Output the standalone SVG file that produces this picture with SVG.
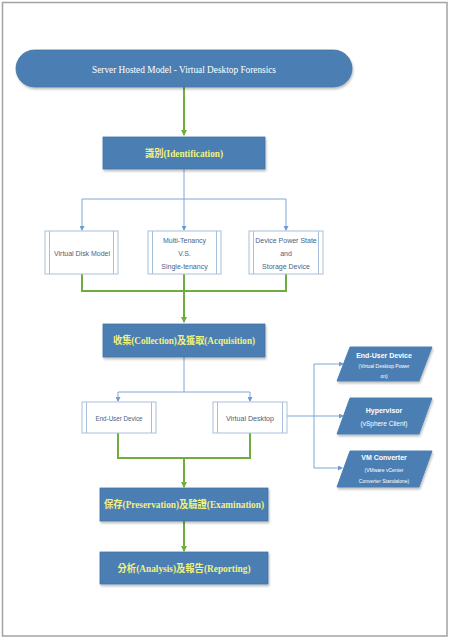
<svg xmlns="http://www.w3.org/2000/svg" width="450" height="640" viewBox="0 0 450 640">
<defs>
<marker id="ag" markerWidth="6" markerHeight="6" refX="5" refY="3" orient="auto" markerUnits="userSpaceOnUse"><path d="M0,0 L6,3 L0,6 z" fill="#6FAD3F"/></marker>
<marker id="ab" markerWidth="5" markerHeight="5" refX="4" refY="2.5" orient="auto" markerUnits="userSpaceOnUse"><path d="M0,0 L5,2.5 L0,5 z" fill="#6E9BD0"/></marker>
<filter id="sh" x="-10%" y="-20%" width="120%" height="150%"><feGaussianBlur in="SourceAlpha" stdDeviation="1.2"/><feOffset dx="1" dy="2" result="b"/><feComponentTransfer><feFuncA type="linear" slope="0.25"/></feComponentTransfer><feMerge><feMergeNode/><feMergeNode in="SourceGraphic"/></feMerge></filter>
</defs>
<style>
.blk{fill:#4C7FB3;stroke:#4272A6;stroke-width:0.8}
.cn{font-family:"Liberation Serif","Noto Sans CJK TC",serif;font-weight:bold;font-size:10px;fill:#F2F27A;text-anchor:middle}
.pr{fill:#FFFFFF;stroke:#A9C0DD;stroke-width:1}
.prl{stroke:#A9C0DD;stroke-width:1}
.pt{font-family:"Liberation Sans",Arial,sans-serif;font-size:7px;fill:#4B6282;text-anchor:middle}
.pg{fill:#4C7FB3;stroke:#4C7FB3}
.wt{font-family:"Liberation Sans",Arial,sans-serif;fill:#FFFFFF;text-anchor:middle}
.g{fill:none;stroke:#6FAD3F;stroke-width:2}
.b{fill:none;stroke:#7FA6D6;stroke-width:1}
</style>
<rect x="0" y="0" width="450" height="640" fill="#FFFFFF"/>
<rect x="2.5" y="2.5" width="444.5" height="633.5" fill="none" stroke="#A3A3A3" stroke-width="1.5"/>

<g id="connectors">
<path class="g" d="M184,87 V135" marker-end="url(#ag)"/>
<path class="b" d="M184,169 V199 M82,199 H286"/>
<path class="b" d="M82,199 V230" marker-end="url(#ab)"/>
<path class="b" d="M184,199 V230" marker-end="url(#ab)"/>
<path class="b" d="M286,199 V230" marker-end="url(#ab)"/>
<path class="g" d="M82,274 V291 H286 V274 M184,274 V291"/>
<path class="g" d="M184,291 V322" marker-end="url(#ag)"/>
<path class="b" d="M184,357 V392 M118,392 H250"/>
<path class="b" d="M118,392 V401" marker-end="url(#ab)"/>
<path class="b" d="M250,392 V401" marker-end="url(#ab)"/>
<path class="g" d="M118,433 V458 H250 V433"/>
<path class="g" d="M184,458 V487" marker-end="url(#ag)"/>
<path class="b" d="M287,416 H314 M314,364 V468"/>
<path class="b" d="M314,364 H343" marker-end="url(#ab)"/>
<path class="b" d="M314,416 H343" marker-end="url(#ab)"/>
<path class="b" d="M314,468 H342" marker-end="url(#ab)"/>
<path class="g" d="M184,521 V551" marker-end="url(#ag)"/>
</g>

<g id="title">
<rect x="16" y="50" width="336" height="37" rx="18.5" class="blk" filter="url(#sh)"/>
<text x="184" y="72.5" font-family="'Liberation Serif',serif" font-size="11" fill="#FFFFFF" text-anchor="middle" textLength="184" lengthAdjust="spacingAndGlyphs">Server Hosted Model - Virtual Desktop Forensics</text>
</g>

<g id="identification">
<rect x="103" y="137" width="162" height="32" class="blk" filter="url(#sh)"/>
<text x="184" y="156.5" class="cn" textLength="78" lengthAdjust="spacingAndGlyphs">識別(Identification)</text>
</g>

<g id="virtual-disk-model">
<rect x="45" y="231" width="73" height="43" class="pr"/>
<path class="prl" d="M49.5,231 V274 M113.5,231 V274"/>
<text x="82" y="255.5" class="pt" textLength="56" lengthAdjust="spacingAndGlyphs">Virtual Disk Model</text>
</g>

<g id="multi-tenancy">
<rect x="148" y="231" width="73" height="43" class="pr"/>
<path class="prl" d="M152.5,231 V274 M216.5,231 V274"/>
<text x="184.5" y="242.5" class="pt">Multi-Tenancy</text>
<text x="184.5" y="255.5" class="pt">V.S.</text>
<text x="184.5" y="268.5" class="pt">Single-tenancy</text>
</g>

<g id="device-power-state">
<rect x="249" y="231" width="74" height="43" class="pr"/>
<path class="prl" d="M253.5,231 V274 M318.5,231 V274"/>
<text x="286" y="242.5" class="pt">Device Power State</text>
<text x="286" y="255.5" class="pt">and</text>
<text x="286" y="268.5" class="pt">Storage Device</text>
</g>

<g id="collection">
<rect x="103" y="324" width="162" height="33" class="blk" filter="url(#sh)"/>
<text x="184" y="344" class="cn" textLength="142" lengthAdjust="spacingAndGlyphs">收集(Collection)及獲取(Acquisition)</text>
</g>

<g id="end-user-device">
<rect x="82" y="402" width="74" height="31" class="pr"/>
<path class="prl" d="M86.5,402 V433 M151.5,402 V433"/>
<text x="119" y="420.5" class="pt" textLength="47" lengthAdjust="spacingAndGlyphs">End-User Device</text>
</g>

<g id="virtual-desktop">
<rect x="213" y="402" width="74" height="31" class="pr"/>
<path class="prl" d="M217.5,402 V433 M282.5,402 V433"/>
<text x="250" y="420.5" class="pt" textLength="48" lengthAdjust="spacingAndGlyphs">Virtual Desktop</text>
</g>

<g id="pg-end-user-device">
<polygon points="350,347 432,347 419,381 337,381" class="pg" filter="url(#sh)"/>
<text x="384" y="357.5" class="wt" font-size="7" font-weight="bold">End-User Device</text>
<text x="384" y="368" class="wt" font-size="5">(Virtual Desktop Power</text>
<text x="384" y="378" class="wt" font-size="5">on)</text>
</g>

<g id="pg-hypervisor">
<polygon points="350,398 432,398 419,434 337,434" class="pg" filter="url(#sh)"/>
<text x="384" y="412.5" class="wt" font-size="7" font-weight="bold">Hypervisor</text>
<text x="384" y="425.5" class="wt" font-size="6.5">(vSphere Client)</text>
</g>

<g id="pg-vm-converter">
<polygon points="350,451 432,451 419,487 337,487" class="pg" filter="url(#sh)"/>
<text x="384" y="460" class="wt" font-size="7" font-weight="bold">VM Converter</text>
<text x="384" y="471.5" class="wt" font-size="5">(VMware vCenter</text>
<text x="384" y="483" class="wt" font-size="5">Converter Standalone)</text>
</g>

<g id="preservation">
<rect x="100" y="488" width="168" height="33" class="blk" filter="url(#sh)"/>
<text x="184" y="508" class="cn" textLength="160" lengthAdjust="spacingAndGlyphs">保存(Preservation)及驗證(Examination)</text>
</g>

<g id="analysis">
<rect x="100" y="552" width="168" height="32" class="blk" filter="url(#sh)"/>
<text x="184" y="572" class="cn" textLength="133" lengthAdjust="spacingAndGlyphs">分析(Analysis)及報告(Reporting)</text>
</g>
</svg>
